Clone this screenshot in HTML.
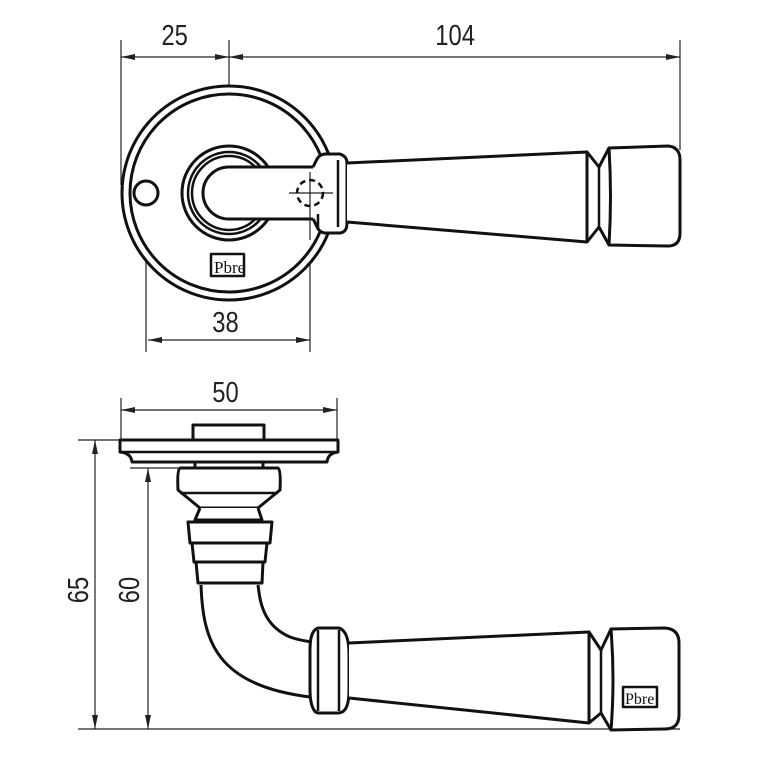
<!DOCTYPE html>
<html><head><meta charset="utf-8"><style>
html,body{margin:0;padding:0;background:#fff;}
svg{display:block;}
text{font-family:"Liberation Sans",sans-serif;font-size:29px;fill:#222;}
</style></head><body>
<svg width="777" height="777" viewBox="0 0 777 777" xmlns="http://www.w3.org/2000/svg">
<defs>
<marker id="a" viewBox="0 0 14 6" refX="14" refY="3" markerWidth="14" markerHeight="6" orient="auto-start-reverse" markerUnits="userSpaceOnUse"><path d="M0,0 L14,3 L0,6 Z" fill="#222"/></marker>
</defs>
<g stroke="#222" stroke-width="1.2" fill="none">
<line x1="121" y1="40" x2="121" y2="185"/>
<line x1="229" y1="40" x2="229" y2="235"/>
<line x1="680" y1="40" x2="680" y2="150"/>
<line x1="121" y1="57" x2="229" y2="57" marker-start="url(#a)" marker-end="url(#a)"/>
<line x1="229" y1="57" x2="680" y2="57" marker-start="url(#a)" marker-end="url(#a)"/>
<line x1="146" y1="175" x2="146" y2="352"/>
<line x1="310" y1="172" x2="310" y2="352"/>
<line x1="148" y1="340" x2="310" y2="340" marker-start="url(#a)" marker-end="url(#a)"/>
<line x1="124" y1="193" x2="172" y2="193"/>
<line x1="200" y1="193" x2="256" y2="193"/>
<line x1="121" y1="398" x2="121" y2="440"/>
<line x1="337" y1="398" x2="337" y2="440"/>
<line x1="121" y1="410" x2="337" y2="410" marker-start="url(#a)" marker-end="url(#a)"/>
<line x1="78" y1="440" x2="121" y2="440"/>
<line x1="130" y1="468" x2="178" y2="468"/>
<line x1="78" y1="729" x2="680" y2="729"/>
<line x1="95" y1="440" x2="95" y2="729" marker-start="url(#a)" marker-end="url(#a)"/>
<line x1="148" y1="468" x2="148" y2="729" marker-start="url(#a)" marker-end="url(#a)"/>
</g>
<g transform="scale(0.82,1)">
<text x="213" y="45" text-anchor="middle">25</text>
<text x="555" y="45" text-anchor="middle">104</text>
<text x="275" y="332" text-anchor="middle">38</text>
<text x="275" y="402" text-anchor="middle">50</text>
</g>
<text transform="translate(88,590) rotate(-90) scale(0.82,1)" text-anchor="middle">65</text>
<text transform="translate(139,590) rotate(-90) scale(0.82,1)" text-anchor="middle">60</text>

<g stroke="#111" stroke-width="3" fill="#fff" stroke-linejoin="round">
<circle cx="229" cy="193" r="107"/>
<circle cx="229" cy="193" r="99"/>
<circle cx="146" cy="193" r="12" fill="none"/>
<circle cx="229" cy="193" r="47"/>
<circle cx="229" cy="193" r="41" stroke-width="2.5"/>
<circle cx="229" cy="193" r="37" stroke-width="2.5"/>
<path d="M313,167 L229,167 A26,26 0 0 0 229,219 L313,219 Z" stroke="none"/>
<path d="M313,167 L229,167 A26,26 0 0 0 229,219 L313,219" fill="none"/>
<path d="M313,167 C317,160 317,155 325,154 L340,154 C346,156 347,160 347,163 L347,222 C347,228 346,232 340,233 L325,233 C317,232 317,225 313,219"/>
<line x1="338" y1="160" x2="338" y2="227" stroke-width="2.5"/>
<line x1="318" y1="214" x2="318" y2="230" stroke-width="2.5"/>
<line x1="289" y1="193" x2="333" y2="193" stroke="#222" stroke-width="1.2"/>
<line x1="310" y1="172" x2="310" y2="240" stroke="#222" stroke-width="1.2"/>
<circle cx="310" cy="193" r="13" fill="none" stroke-width="2.5" stroke-dasharray="6,4"/>
<path d="M347,163 L587,152 L587,242 L347,222"/>
<path d="M587,152 L599,167 L609,148 M587,242 L599,227 L609,245" fill="none"/>
<line x1="599" y1="167" x2="599" y2="227" stroke-width="2.5"/>
<path d="M609,148 L668,146 Q680,147 680,160 L680,233 Q680,246 668,246 L609,245 Q612,196 609,148 Z"/>
<rect x="211" y="254" width="33" height="22" stroke-width="2.5"/>
<text x="214" y="273" style="font-size:17px;font-family:'Liberation Serif',serif;fill:#111;stroke:none">Pbre</text>

<rect x="193" y="425" width="71" height="16"/>
<path d="M120,440 L338,440 L338,452 Q328,453 327,462 L132,462 Q131,453 120,452 Z"/>
<line x1="122" y1="452" x2="336" y2="452" stroke-width="2.5"/>
<rect x="195" y="462" width="68" height="7"/>
<path d="M201,585 C203,640 215,685 310,697 L312,642 C290,638 270,625 264,600 L258,585 Z" stroke="none"/>
<path d="M201,585 C203,640 215,685 310,697 M258,585 C260,600 262,625 290,637 C298,640 305,641 312,642" fill="none"/>
<path d="M180,468 L278,468 Q281,470 280,490 L258,508 L200,508 L178,490 Q177,470 180,468 Z"/>
<line x1="180" y1="493" x2="278" y2="493" stroke-width="2.5"/>
<path d="M200,508 L195,520 L262,520 L258,508"/>
<path d="M188,522 L272,522 L270,543 L190,543 Z"/>
<path d="M192,543 L267,543 L265,562 L194,562 Z"/>
<path d="M196,562 L263,562 L262,583 L198,583 Z"/>
<path d="M318,628 L339,628 C346,630 349,640 349,655 L349,690 C349,705 346,712 339,713 L318,713 C312,712 310,700 310,690 L310,650 C310,638 312,630 318,628 Z"/>
<line x1="318" y1="630" x2="318" y2="711" stroke-width="2.5"/>
<line x1="339" y1="630" x2="339" y2="711" stroke-width="2.5"/>
<path d="M349,643 L589,632 L589,723 L349,698"/>
<path d="M589,632 L601,650 L611,629 M589,723 L601,713 L611,730" fill="none"/>
<line x1="601" y1="650" x2="601" y2="713" stroke-width="2.5"/>
<path d="M611,629 L665,628 Q679,629 679,643 L679,715 Q679,729 665,729 L611,730 Q615,680 611,629 Z"/>
<rect x="623" y="687" width="34" height="20" stroke-width="2.5"/>
<text x="625" y="704" style="font-size:16px;font-family:'Liberation Serif',serif;fill:#111;stroke:none">Pbre</text>
</g>
</svg>
</body></html>
